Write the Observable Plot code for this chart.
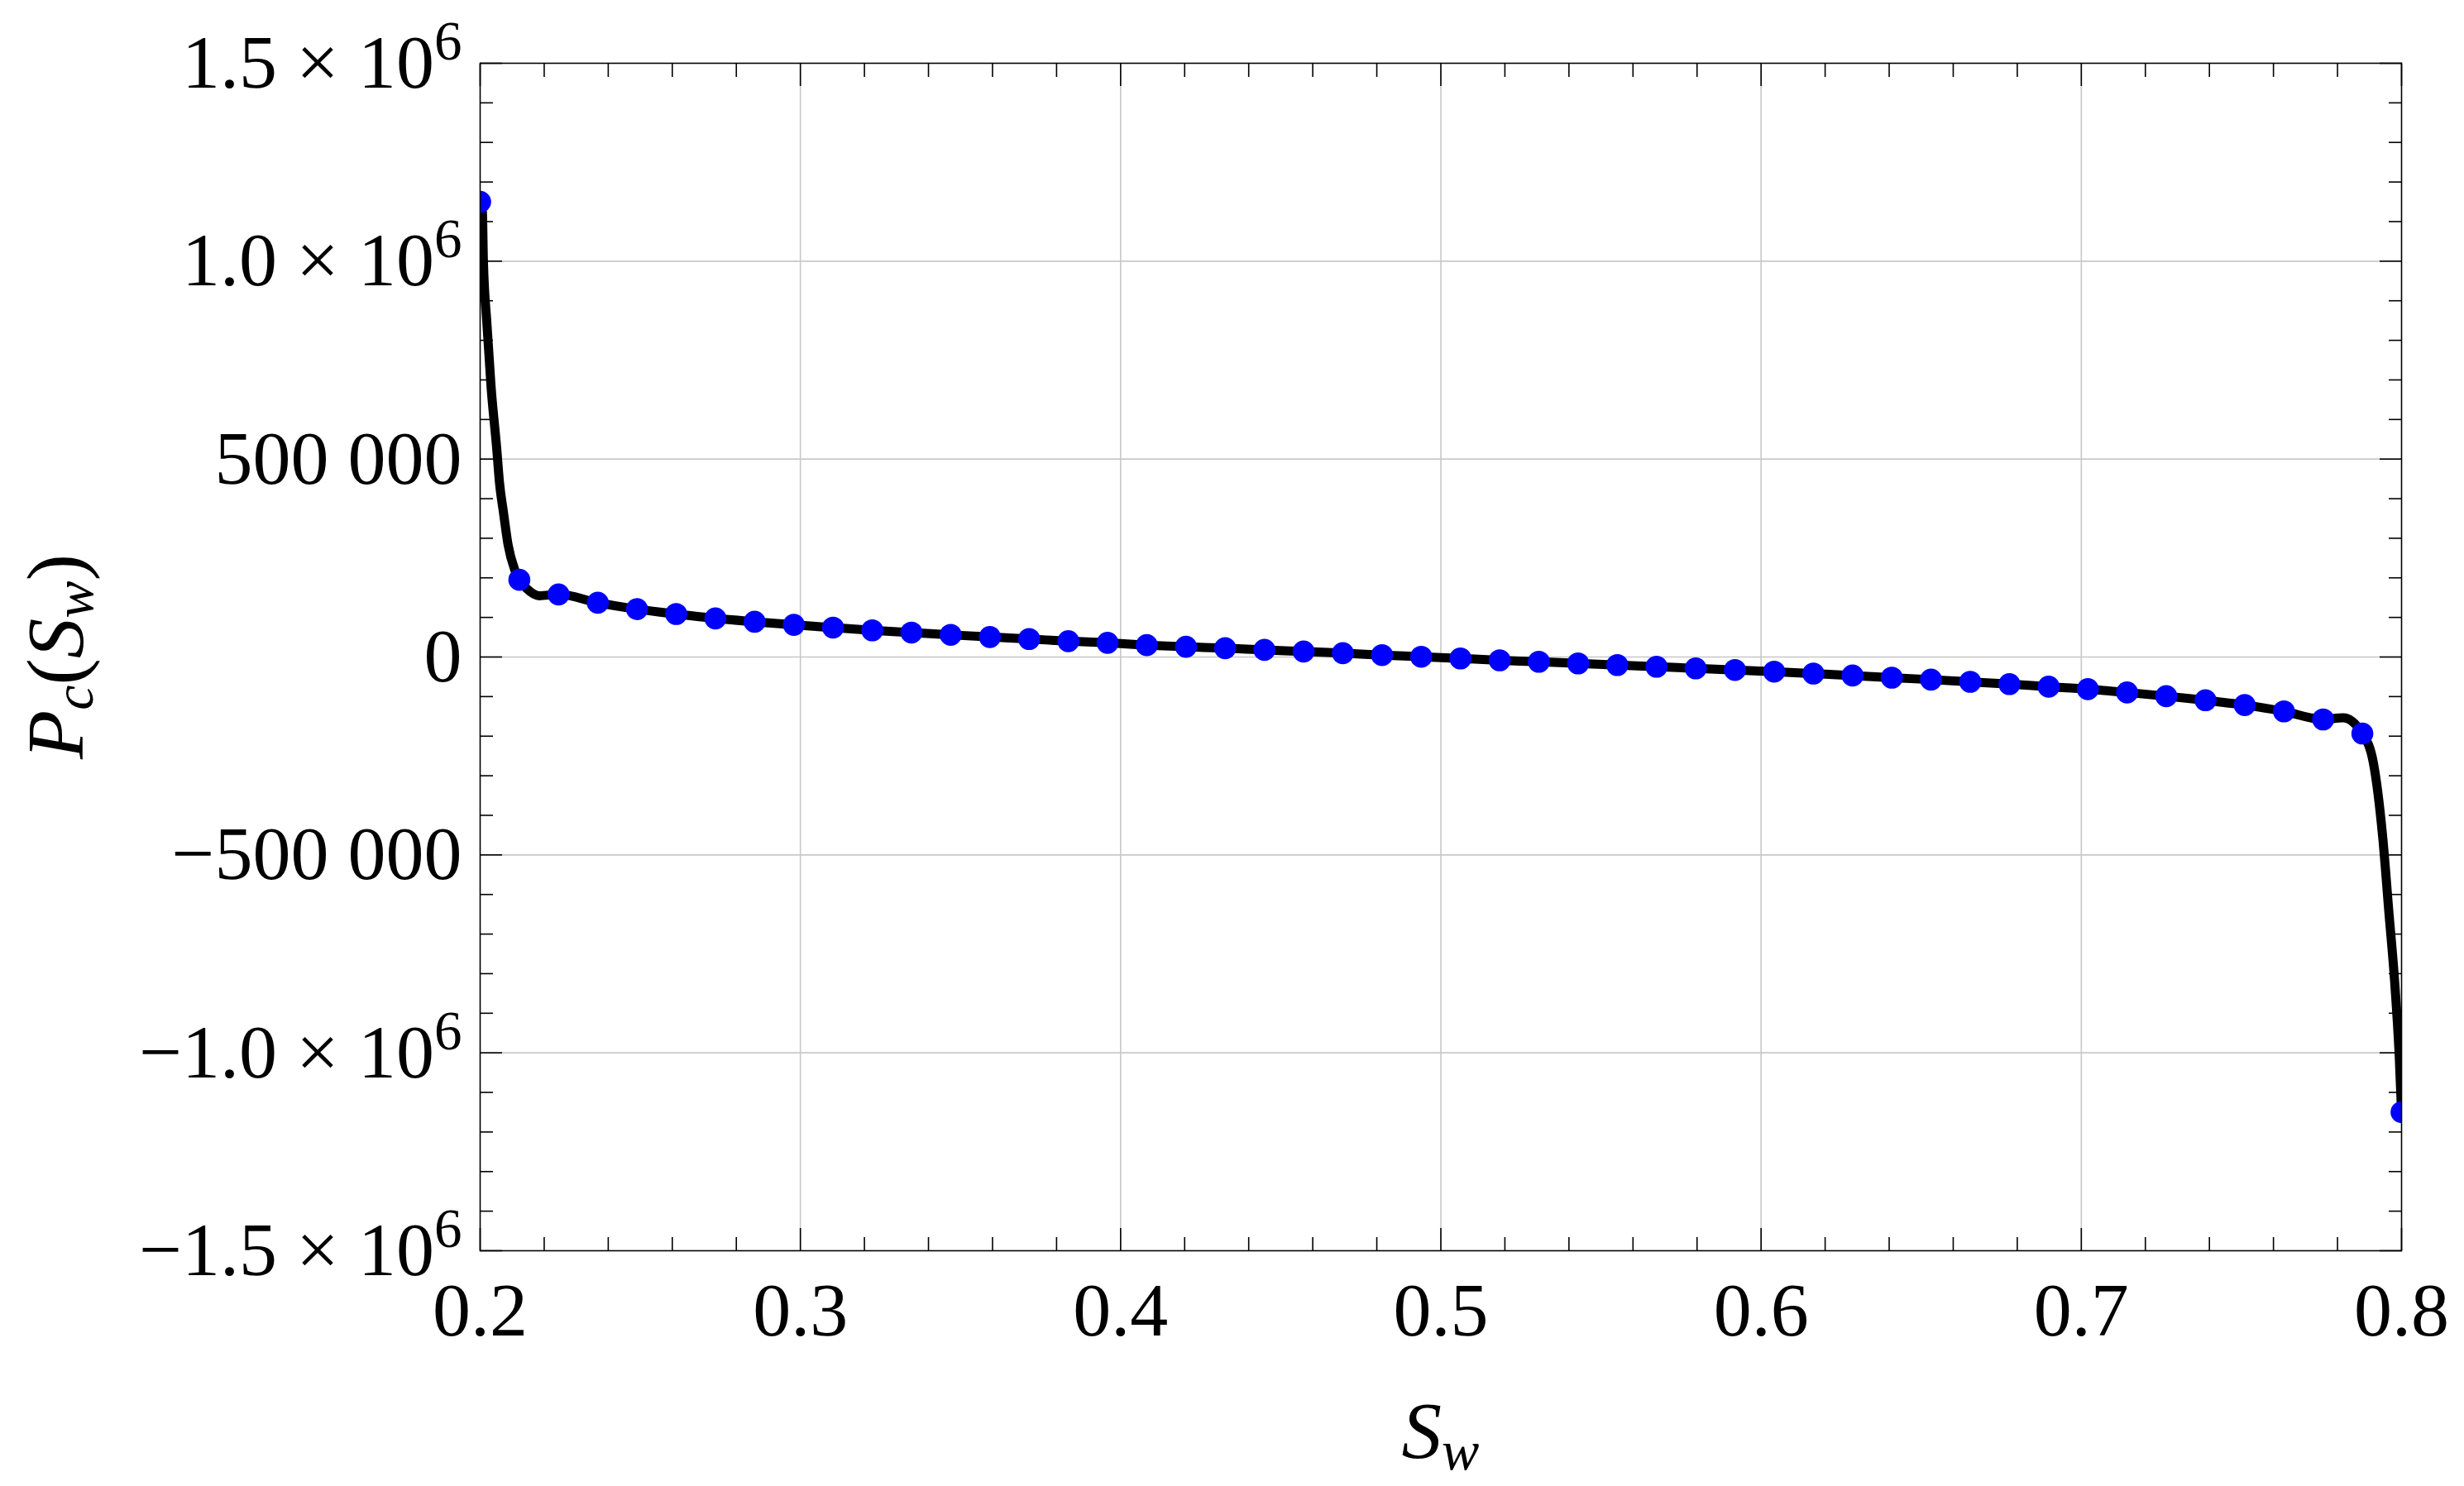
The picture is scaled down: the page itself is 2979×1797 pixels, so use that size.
<!DOCTYPE html>
<html>
<head>
<meta charset="utf-8">
<script src="https://cdn.jsdelivr.net/npm/d3@7"></script>
<script src="https://cdn.jsdelivr.net/npm/@observablehq/plot@0.6"></script>
<style>
html, body { margin: 0; padding: 0; background: #fff; }
#chart svg { display: block; }
</style>
</head>
<body>
<div id="chart"></div>
<script>
// ---- Data ----
// Sample points (blue dots)
const dotSw = [0.2, 0.21224, 0.22449, 0.23673, 0.24898, 0.26122, 0.27347, 0.28571, 0.29796, 0.31020,
  0.32245, 0.33469, 0.34694, 0.35918, 0.37143, 0.38367, 0.39592, 0.40816, 0.42041, 0.43265,
  0.44490, 0.45714, 0.46939, 0.48163, 0.49388, 0.50612, 0.51837, 0.53061, 0.54286, 0.55510,
  0.56735, 0.57959, 0.59184, 0.60408, 0.61633, 0.62857, 0.64082, 0.65306, 0.66531, 0.67755,
  0.68980, 0.70204, 0.71429, 0.72653, 0.73878, 0.75102, 0.76327, 0.77551, 0.78776, 0.8];
const dotPc = [1150000, 195000, 158000, 137000, 121000, 108600, 97500, 89000, 81300, 74300,
  67400, 61700, 56000, 50500, 45500, 40000, 35800, 30000, 25900, 22300,
  18000, 13900, 9700, 4800, 600, -3600, -8400, -12000, -16200, -20400,
  -24600, -28800, -32800, -37000, -41800, -46800, -52200, -57200, -62700, -68500,
  -75000, -81300, -89600, -99000, -109300, -121400, -137300, -157700, -193400, -1150000];

// Continuous curve (black line): steep ends read separately, middle follows the dots
const curveLeftSw = [0.2, 0.2007, 0.2010, 0.2021, 0.2034, 0.2052, 0.2060, 0.2073, 0.2087, 0.2108, 0.21224, 0.2146, 0.2185];
const curveLeftPc = [1150000, 1123700, 1003800, 843700, 684000, 524100, 444100, 364100, 284300, 220200, 195000, 172300, 154800];
const curveMidSw = dotSw.slice(2, 48);
const curveMidPc = dotPc.slice(2, 48);
const curveRightSw = [0.7817, 0.78776, 0.7912, 0.7941, 0.7960, 0.7979, 0.7993, 0.8];
const curveRightPc = [-153300, -193400, -267200, -453700, -640300, -826600, -1012500, -1150000];

// Axes
const xMajorTicks = [0.2, 0.3, 0.4, 0.5, 0.6, 0.7, 0.8];
const xTickLabels = ["0.2", "0.3", "0.4", "0.5", "0.6", "0.7", "0.8"];
const xMinorTicks = [0.22, 0.24, 0.26, 0.28, 0.32, 0.34, 0.36, 0.38, 0.42, 0.44, 0.46, 0.48,
  0.52, 0.54, 0.56, 0.58, 0.62, 0.64, 0.66, 0.68, 0.72, 0.74, 0.76, 0.78];
const yMajorTicks = [-1500000, -1000000, -500000, 0, 500000, 1000000, 1500000];
const yTickLabels = ["\u22121.5 \u00d7 10^6", "\u22121.0 \u00d7 10^6", "\u2212500 000", "0", "500 000", "1.0 \u00d7 10^6", "1.5 \u00d7 10^6"];
const yMinorTicks = [-1400000, -1300000, -1200000, -1100000, -900000, -800000, -700000, -600000,
  -400000, -300000, -200000, -100000, 100000, 200000, 300000, 400000,
  600000, 700000, 800000, 900000, 1100000, 1200000, 1300000, 1400000];
const xGrid = [0.3, 0.4, 0.5, 0.6, 0.7];
const yGrid = [-1000000, -500000, 0, 500000, 1000000];

// ---- Tables ----
const dots = dotSw.map((s, i) => ({Sw: s, Pc: dotPc[i]}));
const curve = [
  ...curveLeftSw.map((s, i) => ({Sw: s, Pc: curveLeftPc[i]})),
  ...curveMidSw.map((s, i) => ({Sw: s, Pc: curveMidPc[i]})),
  ...curveRightSw.map((s, i) => ({Sw: s, Pc: curveRightPc[i]}))
].sort((a, b) => a.Sw - b.Sw);

// ---- Layout ----
const W = 2979, H = 1797;
const mL = 580, mR = 76, mT = 76, mB = 285;
const FONT = '"Liberation Serif", "Times New Roman", Times, serif';
const TICK = "#000";
const blank = () => "";

const plot = Plot.plot({
  width: W,
  height: H,
  marginLeft: mL,
  marginRight: mR,
  marginTop: mT,
  marginBottom: mB,
  style: {fontFamily: FONT, fontSize: "92px", color: "#000", background: "#fff"},
  x: {domain: [0.2, 0.8]},
  y: {domain: [-1500000, 1500000]},
  marks: [
    Plot.gridX(xGrid, {stroke: "#c8c8c8", strokeOpacity: 1, strokeWidth: 1.6}),
    Plot.gridY(yGrid, {stroke: "#c8c8c8", strokeOpacity: 1, strokeWidth: 1.6}),
    Plot.line(curve, {x: "Sw", y: "Pc", stroke: "#000", strokeWidth: 11, curve: "monotone-x", clip: true}),
    Plot.dot(dots, {x: "Sw", y: "Pc", r: 13.3, fill: "#0000ff", stroke: null, clip: true}),
    Plot.frame({stroke: "#000", strokeWidth: 1.6}),
    Plot.axisX(xMajorTicks, {anchor: "bottom", tickSize: -27, tickPadding: 64, stroke: TICK, strokeWidth: 1.6,
      tickFormat: v => xTickLabels[xMajorTicks.indexOf(v)], label: null}),
    Plot.axisX(xMinorTicks, {anchor: "bottom", tickSize: -16, stroke: TICK, strokeWidth: 1.6, tickFormat: blank, label: null}),
    Plot.axisX(xMajorTicks, {anchor: "top", tickSize: -27, stroke: TICK, strokeWidth: 1.6, tickFormat: blank, label: null}),
    Plot.axisX(xMinorTicks, {anchor: "top", tickSize: -16, stroke: TICK, strokeWidth: 1.6, tickFormat: blank, label: null}),
    Plot.axisY(yMajorTicks, {anchor: "left", tickSize: -27, tickPadding: 49, stroke: TICK, strokeWidth: 1.6,
      tickFormat: v => yTickLabels[yMajorTicks.indexOf(v)], label: null}),
    Plot.axisY(yMinorTicks, {anchor: "left", tickSize: -16, stroke: TICK, strokeWidth: 1.6, tickFormat: blank, label: null}),
    Plot.axisY(yMajorTicks, {anchor: "right", tickSize: -27, stroke: TICK, strokeWidth: 1.6, tickFormat: blank, label: null}),
    Plot.axisY(yMinorTicks, {anchor: "right", tickSize: -16, stroke: TICK, strokeWidth: 1.6, tickFormat: blank, label: null})
  ]
});

const svg = d3.select(plot);
// superscript exponents in y tick labels
svg.selectAll('g[aria-label="y-axis tick label"] text').each(function () {
  const t = this.textContent;
  if (t.includes("^")) {
    const [base, exp] = t.split("^");
    const sel = d3.select(this);
    sel.text(base);
    sel.append("tspan").attr("dy", -34).attr("font-size", "67px").text(exp);
  }
});

// x-axis title S_w
const cx = (mL + (W - mR)) / 2;
const xl = svg.append("text")
  .attr("x", cx).attr("y", H - mB + 251)
  .attr("text-anchor", "middle")
  .attr("font-family", FONT).attr("font-size", "97px").attr("font-style", "italic").attr("fill", "#000");
xl.append("tspan").text("S");
xl.append("tspan").attr("font-size", "68px").attr("dy", 14).text("w");

// y-axis title P_c(S_w)
const cy = (mT + (H - mB)) / 2;
const yl = svg.append("text")
  .attr("transform", `translate(100, ${cy}) rotate(-90)`)
  .attr("text-anchor", "middle")
  .attr("font-family", FONT).attr("font-size", "97px").attr("fill", "#000");
yl.append("tspan").attr("font-style", "italic").text("P");
yl.append("tspan").attr("font-style", "italic").attr("font-size", "68px").attr("dy", 12).text("c");
yl.append("tspan").attr("dy", -12).text("(");
yl.append("tspan").attr("font-style", "italic").text("S");
yl.append("tspan").attr("font-style", "italic").attr("font-size", "68px").attr("dy", 12).text("w");
yl.append("tspan").attr("dy", -12).text(")");

document.getElementById("chart").appendChild(plot);
</script>
</body>
</html>
